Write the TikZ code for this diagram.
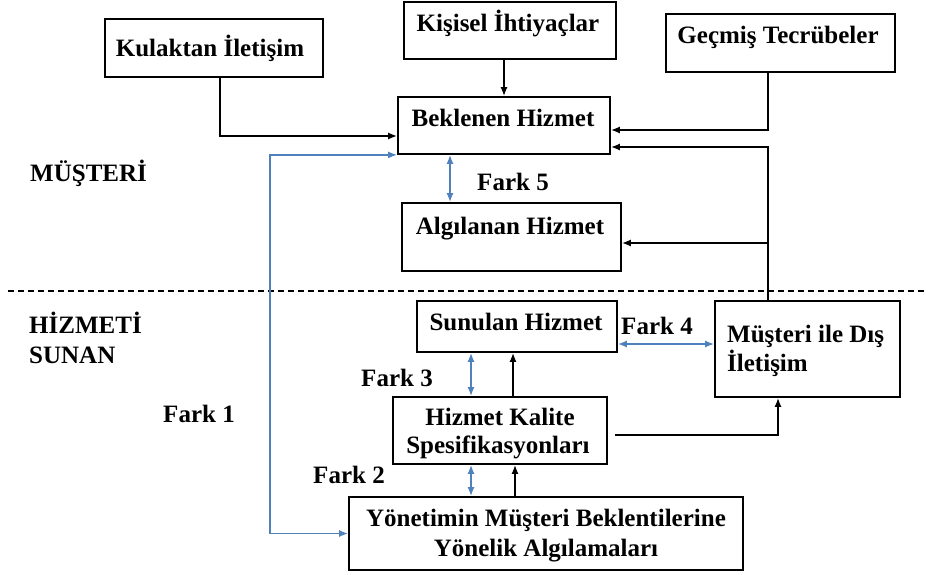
\documentclass[tikz,border=0pt]{standalone}
\usepackage{fontspec}
\setmainfont{Liberation Serif}
\usetikzlibrary{arrows.meta,calc}
\definecolor{lblue}{RGB}{79,129,189}
\tikzset{
  box/.style={draw,line width=1.8pt,rectangle,inner sep=0pt},
  txt/.style={font=\bfseries\fontsize{25}{30}\selectfont,inner sep=0pt,anchor=base},
  txtl/.style={txt,anchor=base west},
  arr/.style={line width=1.5pt,-{Latex[length=9pt,width=7pt]}},
  barr/.style={line width=1.5pt,lblue,{Latex[length=9pt,width=7pt]}-{Latex[length=9pt,width=7pt]}}
}
\begin{document}
\begin{tikzpicture}[x=1pt,y=-1pt]
\useasboundingbox (0,0) rectangle (926,575);
% boxes
\node[box,minimum width=218pt,minimum height=58pt] (kul) at (214,48) {};
\node[box,minimum width=212pt,minimum height=57pt] (kis) at (510,30.5) {};
\node[box,minimum width=229pt,minimum height=58pt] (gec) at (780.5,43) {};
\node[box,minimum width=212pt,minimum height=57pt] (bek) at (504,125.5) {};
\node[box,minimum width=219pt,minimum height=68pt] (alg) at (511.5,237) {};
\node[box,minimum width=200pt,minimum height=51pt] (sun) at (517,326.5) {};
\node[box,minimum width=185pt,minimum height=96pt] (mdi) at (807.5,349) {};
\node[box,minimum width=214pt,minimum height=67pt] (hk) at (500,430.5) {};
\node[box,minimum width=394pt,minimum height=73pt] (yon) at (546,533.5) {};
% texts
\node[txt] (kulT) at (210,57) {Kulaktan İletişim};
\node[txt] (kisT) at (508,32) {Kişisel İhtiyaçlar};
\node[txt] (gecT) at (778,44) {Geçmiş Tecrübeler};
\node[txt] (bekT) at (503,127) {Beklenen Hizmet};
\node[txt] (algT) at (510,234) {Algılanan Hizmet};
\node[txt] (sunT) at (516,330) {Sunulan Hizmet};
\node[txtl] (mdiT1) at (727,342) {Müşteri ile Dış};
\node[txtl] (mdiT2) at (727,371) {İletişim};
\node[txt] (hkT1) at (500,425) {Hizmet Kalite};
\node[txt] (hkT2) at (498,453) {Spesifikasyonları};
\node[txt] (yonT1) at (546,526) {Yönetimin Müşteri Beklentilerine};
\node[txt] (yonT2) at (546,556) {Yönelik Algılamaları};
\node[txtl] (mus) at (30,181) {MÜŞTERİ};
\node[txtl] (hiz1) at (29,333) {HİZMETİ};
\node[txtl] (hiz2) at (29,363) {SUNAN};
\node[txt] (f1) at (199,422) {Fark 1};
\node[txt] (f2) at (349,483) {Fark 2};
\node[txt] (f3) at (397,386) {Fark 3};
\node[txt] (f4) at (657,334) {Fark 4};
\node[txt] (f5) at (513,190) {Fark 5};
% dashed divider
\coordinate (dl) at (8,291);
\coordinate (dr) at (926,291);
\draw[line width=1.2pt,dash pattern=on 6pt off 4pt] (dl) -- (dr);
% helper coordinates
\coordinate (vtop) at ([xshift=-39.5pt]mdi.north);
\coordinate (f1x) at (270,300);
\coordinate (f5x) at (450,180);
\coordinate (bx) at (471,0);
\coordinate (kx) at (513,0);
% black connectors
\draw[arr] ([xshift=6pt]kul.south) |- ([yshift=-10.5pt]bek.west);
\draw[arr] (bek.north |- kis.south) -- (bek.north);
\draw[arr] (gec.south -| vtop) |- ([yshift=-4.5pt]bek.east);
\draw[arr] (vtop) |- ([yshift=-21.5pt]bek.east);
\draw[arr] ([yshift=-6pt]alg.east -| vtop) -- ([yshift=-6pt]alg.east);
\draw[arr] (hk.north -| kx) -- (sun.south -| kx);
\draw[arr] (yon.north -| 515,0) -- (hk.south -| 515,0);
\draw[arr] ([xshift=7pt,yshift=-4.5pt]hk.east) -| ([xshift=-29.5pt]mdi.south);
% blue connectors
\draw[barr] (bek.south west) -| (f1x) |- (yon.west);
\draw[barr] (bek.south -| f5x) -- (alg.north -| f5x);
\draw[barr] ([yshift=-17.5pt]sun.east) -- ([yshift=-17.5pt]sun.east -| mdi.west);
\draw[barr] (sun.south -| bx) -- (hk.north -| bx);
\draw[barr] (hk.south -| bx) -- (yon.north -| bx);
\end{tikzpicture}
\end{document}
